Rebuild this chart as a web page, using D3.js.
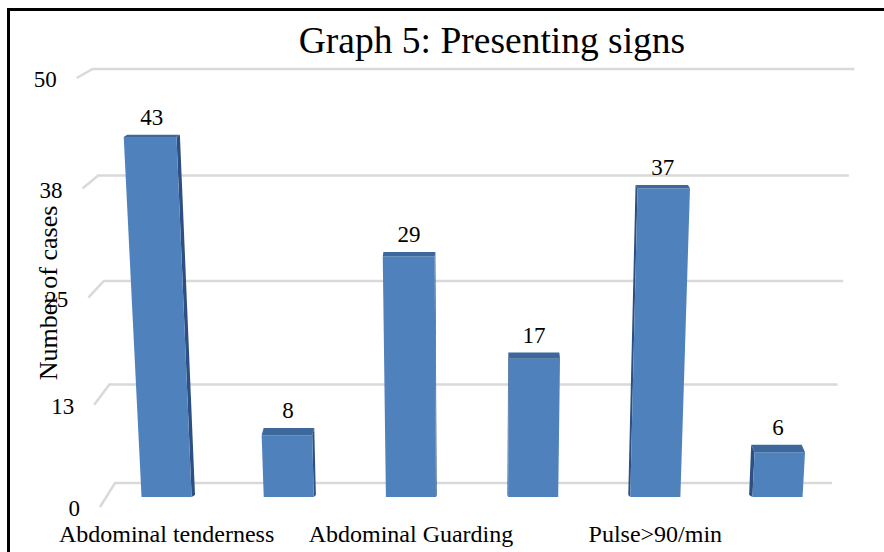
<!DOCTYPE html>
<html><head><meta charset="utf-8">
<script src="https://cdn.jsdelivr.net/npm/d3@7"></script>
<style>body{margin:0;background:#fff} svg{display:block}</style>
</head><body><svg id="c" width="884" height="552"></svg>
<script>
// ---- data ----
const categories = ["Abdominal tenderness", "", "Abdominal Guarding", "", "Pulse>90/min", ""];
const values = [43, 8, 29, 17, 37, 6];
const tickValues = [0, 12.5, 25, 37.5, 50];
const tickLabels = ["0", "13", "25", "38", "50"];
const titleText = "Graph 5: Presenting signs";
const yTitleText = "Number of cases";

// ---- setup ----
const svg = d3.select("#c");
const FONT = "'Liberation Serif','Times New Roman',serif";
const CX = 473, PERSP = 0.00125;
const persp = (x, v) => CX + (x - CX) * (1 + PERSP * v);

const x = d3.scaleBand().domain(d3.range(categories.length))
  .range([105.5, 838.6]).paddingInner(0.59).paddingOuter(0.295);
const yBar = d3.scaleLinear().domain([0, 50]).range([495, 76]);
const yBack = d3.scalePow().exponent(1.035).domain([0, 50]).range([483, 69]);
const yFront = d3.scalePow().exponent(1.035).domain([0, 50]).range([507, 78]);
const floorY = yBar(0) + 2;

// soft edge filter
const defs = svg.append("defs");
defs.append("filter").attr("id", "soft").append("feGaussianBlur").attr("stdDeviation", 0.4);

// frame
svg.append("rect").attr("x", 8.5).attr("y", 9.5).attr("width", 1000).attr("height", 1000)
  .attr("fill", "none").attr("stroke", "#000").attr("stroke-width", 3);

// gridlines (back wall with side returns)
svg.append("g").selectAll("path").data(tickValues).join("path")
  .attr("d", v => `M${persp(100, v)},${yFront(v)} L${persp(115, v)},${yBack(v)} L${persp(832, v)},${yBack(v)}`)
  .attr("fill", "none").attr("stroke", "#d9d9d9").attr("stroke-width", 2.5);

// y axis tick labels via d3 axis, repositioned for perspective
const yAxis = svg.append("g").call(d3.axisLeft(yFront).tickValues(tickValues)
  .tickFormat((d, i) => tickLabels[i]).tickSize(0));
yAxis.select(".domain").remove();
yAxis.selectAll(".tick").attr("transform", d => `translate(${persp(100, d) - 20},${yFront(d) + 1})`);
yAxis.selectAll(".tick text").attr("x", 0).attr("dy", "0.35em")
  .attr("font-family", FONT).attr("font-size", 23).attr("fill", "#000");

// bars
const bars = svg.append("g").selectAll("g").data(values).join("g");
bars.each(function (v, i) {
  const g = d3.select(this);
  const shapes = g.append("g").attr("filter", "url(#soft)");
  const xl = x(i), xr = x(i) + x.bandwidth();
  const c = (xl + xr) / 2;
  const s = -(c - CX) * 0.011;
  const yT = yBar(v);
  const t = 8.5 * (1 - v / 60);
  const yF = yT + t;
  const tl = persp(xl, v), tr = persp(xr, v);
  // side face
  if (s > 0) {
    shapes.append("polygon").attr("points", [[tr, yF], [tr + s, yT], [xr + s, floorY - 2], [xr, floorY]].join(" "))
      .attr("fill", "#2d5082");
  } else {
    shapes.append("polygon").attr("points", [[tl, yF], [tl + s, yT], [xl + s, floorY - 2], [xl, floorY]].join(" "))
      .attr("fill", "#2d5082");
  }
  // front face
  shapes.append("polygon").attr("points", [[tl, yF], [tr, yF], [xr, floorY], [xl, floorY]].join(" "))
    .attr("fill", "#4f81bd");
  // top face
  shapes.append("polygon").attr("points", [[tl, yF], [tr, yF], [tr + s, yT], [tl + s, yT]].join(" "))
    .attr("fill", "#3d679c");
  // value label
  g.append("text").attr("x", persp(c, v) + s / 2).attr("y", yT - 10)
    .attr("text-anchor", "middle").attr("font-family", FONT).attr("font-size", 23)
    .attr("fill", "#000").text(v);
});

// x axis labels
const xAxis = svg.append("g").call(d3.axisBottom(x).tickSize(0).tickFormat(i => categories[i]));
xAxis.select(".domain").remove();
xAxis.selectAll(".tick text").attr("y", 542).attr("dy", 0)
  .attr("font-family", FONT).attr("font-size", 24).attr("fill", "#000");

// y title
svg.append("text").attr("transform", "translate(57,293) rotate(-90)")
  .attr("text-anchor", "middle").attr("font-family", FONT).attr("font-size", 26)
  .attr("fill", "#000").text(yTitleText);

// title
svg.append("text").attr("x", 492).attr("y", 53).attr("text-anchor", "middle")
  .attr("font-family", FONT).attr("font-size", 37.5).attr("fill", "#000").text(titleText);
</script>
</body></html>
